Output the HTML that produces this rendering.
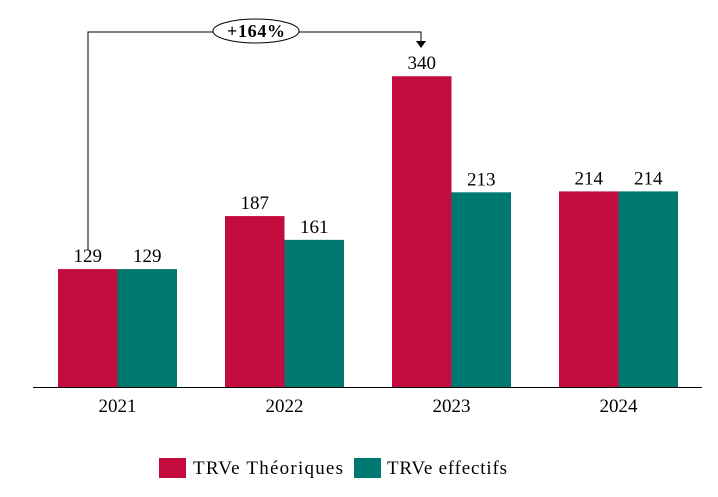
<!DOCTYPE html>
<html><head><meta charset="utf-8"><style>
body{margin:0;background:#fff}
svg text{font-family:"Liberation Serif","DejaVu Serif",serif;fill:#000}
</style></head><body>
<svg width="718" height="492" xmlns="http://www.w3.org/2000/svg">
<g id="bars"></g>
<line x1="33" y1="387.5" x2="702" y2="387.5" stroke="#000" stroke-width="1"/>
<g id="xlabels"></g>
<g>
<polyline points="88,250 88,32 421,32 421,42" fill="none" stroke="#000" stroke-width="1"/>
<polygon points="416,41 426,41 421,48" fill="#000"/>
<ellipse cx="256" cy="31" rx="43" ry="12" fill="#fff" stroke="#000" stroke-width="1"/>
<text x="256" y="37" text-anchor="middle" font-size="18" font-weight="bold" textLength="58">+164%</text>
</g>
<g>
<rect x="159" y="458" width="27" height="20" fill="#C20C3E"/>
<text x="193" y="474" font-size="19" textLength="150">TRVe Théoriques</text>
<rect x="354" y="458" width="27" height="20" fill="#007872"/>
<text x="387" y="474" font-size="19" textLength="120">TRVe effectifs</text>
</g>
</svg>
<script>
const categories=["2021","2022","2023","2024"];
const theoriques=[129,187,340,214];
const effectifs=[129,161,213,214];
const base=387, k=0.914, x0=117.5, step=167, bw=59.5;
const y=v=>base-v*k;
const cx=i=>x0+i*step;
const ns="http://www.w3.org/2000/svg";
const bars=document.getElementById('bars'), xl=document.getElementById('xlabels');
function mk(t,a,p){const e=document.createElementNS(ns,t);for(const q in a)e.setAttribute(q,a[q]);p.appendChild(e);return e;}
categories.forEach((c,i)=>{
 [[theoriques,"#C20C3E",-bw,"theoriques"],[effectifs,"#007872",0,"effectifs"]].forEach(([s,col,off,n])=>{
  const v=s[i];
  const r=mk('rect',{x:cx(i)+off,y:y(v),width:bw,height:v*k,fill:col},bars);
  
  
  const t=mk('text',{x:cx(i)+off+bw/2,y:y(v)-7,'text-anchor':'middle','font-size':'19'},bars);
  t.textContent=v;
  
  
 });
 const t=mk('text',{x:cx(i),y:412,'text-anchor':'middle','font-size':'19'},xl);
 t.textContent=c;
 
 
});
</script>
</body></html>
